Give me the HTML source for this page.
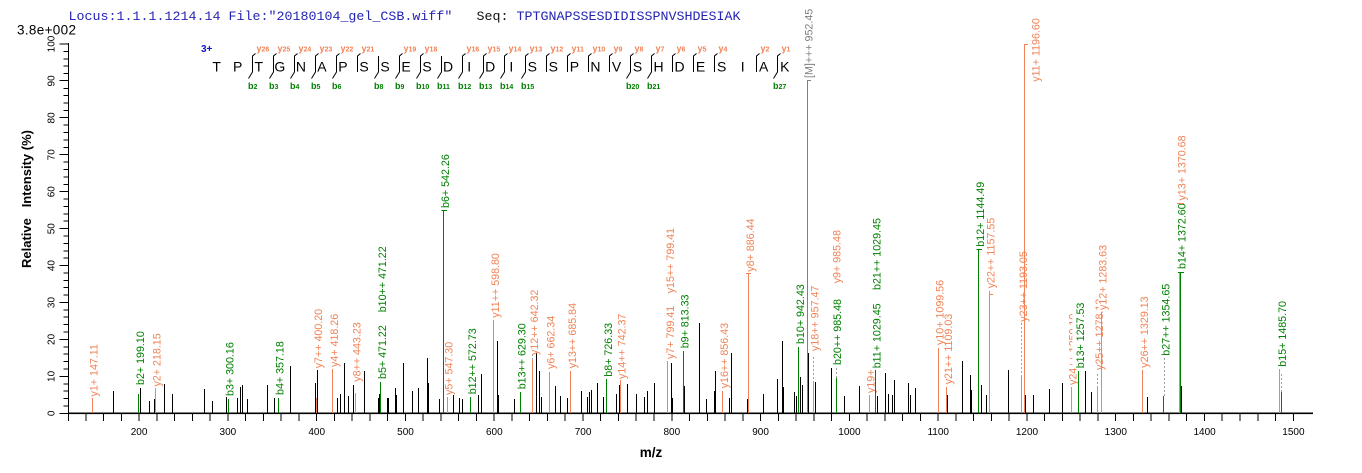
<!DOCTYPE html>
<html><head><meta charset="utf-8"><style>
html,body{margin:0;padding:0;background:#fff;}
svg{display:block;}
.l{font-family:"Liberation Sans",Arial,sans-serif;font-size:10.7px;}
.o{fill:#f08458;}
.g{fill:#008000;}
.k{fill:#808080;}
.t{font-family:"Liberation Sans",Arial,sans-serif;font-size:10px;fill:#000;}
.seq{font-family:"Liberation Sans",Arial,sans-serif;font-size:14px;fill:#000;text-anchor:middle;}
.yi{font-family:"Liberation Sans",Arial,sans-serif;font-weight:bold;fill:#f08458;}
.bi{font-family:"Liberation Sans",Arial,sans-serif;font-weight:bold;fill:#008000;}
</style></head><body>
<svg width="1362" height="473" viewBox="0 0 1362 473" xmlns="http://www.w3.org/2000/svg">
<rect width="1362" height="473" fill="#fff"/>
<!-- header -->
<text x="68.5" y="20" font-family="Liberation Mono, monospace" font-size="13.33" fill="#2424b4" xml:space="preserve">Locus:1.1.1.1214.14 File:"20180104_gel_CSB.wiff"</text>
<text x="476.5" y="20" font-family="Liberation Mono, monospace" font-size="13.33" fill="#111">Seq:</text>
<text x="516.5" y="20" font-family="Liberation Mono, monospace" font-size="13.33" fill="#2424b4">TPTGNAPSSESDIDISSPNVSHDESIAK</text>
<text x="17" y="34.5" font-family="Liberation Sans, Arial, sans-serif" font-size="13.5" textLength="59" fill="#000">3.8e+002</text>

<!-- sequence annotation -->
<text x="201" y="52" font-family="Liberation Sans, Arial, sans-serif" font-size="10" font-weight="bold" fill="#1010d0">3+</text>
<g class="seq">
<text x="216.7" y="71.5">T</text><text x="237.7" y="71.5">P</text><text x="258.8" y="71.5">T</text><text x="279.8" y="71.5">G</text>
<text x="300.9" y="71.5">N</text><text x="321.9" y="71.5">A</text><text x="342.9" y="71.5">P</text><text x="364.0" y="71.5">S</text>
<text x="385.0" y="71.5">S</text><text x="406.1" y="71.5">E</text><text x="427.1" y="71.5">S</text><text x="448.1" y="71.5">D</text>
<text x="469.2" y="71.5">I</text><text x="490.2" y="71.5">D</text><text x="511.3" y="71.5">I</text><text x="532.3" y="71.5">S</text>
<text x="553.3" y="71.5">S</text><text x="574.4" y="71.5">P</text><text x="595.4" y="71.5">N</text><text x="616.5" y="71.5">V</text>
<text x="637.5" y="71.5">S</text><text x="658.5" y="71.5">H</text><text x="679.6" y="71.5">D</text><text x="700.6" y="71.5">E</text>
<text x="721.7" y="71.5">S</text><text x="742.7" y="71.5">I</text><text x="763.7" y="71.5">A</text><text x="784.8" y="71.5">K</text>
</g>
<!-- brackets -->
<g fill="none" stroke="#000" stroke-width="1">
<path d="M255.5 53.5L252.5 56V72L248.5 78.5"/>
<path d="M276.5 53.5L273.5 56V72L269.5 78.5"/>
<path d="M297.5 53.5L294.5 56V72L290.5 78.5"/>
<path d="M318.5 53.5L315.5 56V72L311.5 78.5"/>
<path d="M339.5 53.5L336.5 56V72L332.5 78.5"/>
<path d="M360.5 53.5L357.5 56V72"/>
<path d="M378.5 56V72L374.5 78.5"/>
<path d="M402.5 53.5L399.5 56V72L395.5 78.5"/>
<path d="M423.5 53.5L420.5 56V72L416.5 78.5"/>
<path d="M441.5 56V72L437.5 78.5"/>
<path d="M465.5 53.5L462.5 56V72L458.5 78.5"/>
<path d="M486.5 53.5L483.5 56V72L479.5 78.5"/>
<path d="M507.5 53.5L504.5 56V72L500.5 78.5"/>
<path d="M528.5 53.5L525.5 56V72L521.5 78.5"/>
<path d="M549.5 53.5L546.5 56V72"/>
<path d="M570.5 53.5L567.5 56V72"/>
<path d="M591.5 53.5L588.5 56V72"/>
<path d="M612.5 53.5L609.5 56V72"/>
<path d="M633.5 53.5L630.5 56V72L626.5 78.5"/>
<path d="M654.5 53.5L651.5 56V72L647.5 78.5"/>
<path d="M675.5 53.5L672.5 56V72"/>
<path d="M696.5 53.5L693.5 56V72"/>
<path d="M717.5 53.5L714.5 56V72"/>
<path d="M759.5 53.5L756.5 56V72"/>
<path d="M780.5 53.5L777.5 56V72L773.5 78.5"/>
</g>
<!-- y ion labels -->
<g class="yi">
<text x="256.5" y="51.5"><tspan font-size="9">y</tspan><tspan font-size="7">26</tspan></text>
<text x="277.5" y="51.5"><tspan font-size="9">y</tspan><tspan font-size="7">25</tspan></text>
<text x="298.5" y="51.5"><tspan font-size="9">y</tspan><tspan font-size="7">24</tspan></text>
<text x="319.5" y="51.5"><tspan font-size="9">y</tspan><tspan font-size="7">23</tspan></text>
<text x="340.5" y="51.5"><tspan font-size="9">y</tspan><tspan font-size="7">22</tspan></text>
<text x="361.5" y="51.5"><tspan font-size="9">y</tspan><tspan font-size="7">21</tspan></text>
<text x="403.5" y="51.5"><tspan font-size="9">y</tspan><tspan font-size="7">19</tspan></text>
<text x="424.5" y="51.5"><tspan font-size="9">y</tspan><tspan font-size="7">18</tspan></text>
<text x="466.5" y="51.5"><tspan font-size="9">y</tspan><tspan font-size="7">16</tspan></text>
<text x="487.5" y="51.5"><tspan font-size="9">y</tspan><tspan font-size="7">15</tspan></text>
<text x="508.5" y="51.5"><tspan font-size="9">y</tspan><tspan font-size="7">14</tspan></text>
<text x="529.5" y="51.5"><tspan font-size="9">y</tspan><tspan font-size="7">13</tspan></text>
<text x="550.5" y="51.5"><tspan font-size="9">y</tspan><tspan font-size="7">12</tspan></text>
<text x="571.5" y="51.5"><tspan font-size="9">y</tspan><tspan font-size="7">11</tspan></text>
<text x="592.5" y="51.5"><tspan font-size="9">y</tspan><tspan font-size="7">10</tspan></text>
<text x="613.5" y="51.5"><tspan font-size="9">y</tspan><tspan font-size="7">9</tspan></text>
<text x="634.5" y="51.5"><tspan font-size="9">y</tspan><tspan font-size="7">8</tspan></text>
<text x="655.5" y="51.5"><tspan font-size="9">y</tspan><tspan font-size="7">7</tspan></text>
<text x="676.5" y="51.5"><tspan font-size="9">y</tspan><tspan font-size="7">6</tspan></text>
<text x="697.5" y="51.5"><tspan font-size="9">y</tspan><tspan font-size="7">5</tspan></text>
<text x="718.5" y="51.5"><tspan font-size="9">y</tspan><tspan font-size="7">4</tspan></text>
<text x="760.5" y="51.5"><tspan font-size="9">y</tspan><tspan font-size="7">2</tspan></text>
<text x="781.5" y="51.5"><tspan font-size="9">y</tspan><tspan font-size="7">1</tspan></text>
</g>
<!-- b ion labels -->
<g class="bi">
<text x="248" y="89"><tspan font-size="9">b</tspan><tspan font-size="7">2</tspan></text>
<text x="269" y="89"><tspan font-size="9">b</tspan><tspan font-size="7">3</tspan></text>
<text x="290" y="89"><tspan font-size="9">b</tspan><tspan font-size="7">4</tspan></text>
<text x="311" y="89"><tspan font-size="9">b</tspan><tspan font-size="7">5</tspan></text>
<text x="332" y="89"><tspan font-size="9">b</tspan><tspan font-size="7">6</tspan></text>
<text x="374" y="89"><tspan font-size="9">b</tspan><tspan font-size="7">8</tspan></text>
<text x="395" y="89"><tspan font-size="9">b</tspan><tspan font-size="7">9</tspan></text>
<text x="416" y="89"><tspan font-size="9">b</tspan><tspan font-size="7">10</tspan></text>
<text x="437" y="89"><tspan font-size="9">b</tspan><tspan font-size="7">11</tspan></text>
<text x="458" y="89"><tspan font-size="9">b</tspan><tspan font-size="7">12</tspan></text>
<text x="479" y="89"><tspan font-size="9">b</tspan><tspan font-size="7">13</tspan></text>
<text x="500" y="89"><tspan font-size="9">b</tspan><tspan font-size="7">14</tspan></text>
<text x="521" y="89"><tspan font-size="9">b</tspan><tspan font-size="7">15</tspan></text>
<text x="626" y="89"><tspan font-size="9">b</tspan><tspan font-size="7">20</tspan></text>
<text x="647" y="89"><tspan font-size="9">b</tspan><tspan font-size="7">21</tspan></text>
<text x="773" y="89"><tspan font-size="9">b</tspan><tspan font-size="7">27</tspan></text>
</g>

<!-- axes -->
<g stroke="#000" stroke-width="1" shape-rendering="crispEdges" fill="none">
<path d="M68.5 43V414"/>
<path d="M68 413.5H1313"/>
<!-- y major ticks -->
<path d="M59.5 413.5H68.5M59.5 376.5H68.5M59.5 339.5H68.5M59.5 302.5H68.5M59.5 265.5H68.5M59.5 228.5H68.5M59.5 191.5H68.5M59.5 154.5H68.5M59.5 117.5H68.5M59.5 80.5H68.5M59.5 44H68.5"/>
<!-- y minor ticks -->
<path d="M63.5 406H68.5M63.5 398.5H68.5M63.5 391H68.5M63.5 384H68.5M63.5 369H68.5M63.5 361.5H68.5M63.5 354H68.5M63.5 347H68.5M63.5 332H68.5M63.5 324.5H68.5M63.5 317H68.5M63.5 310H68.5M63.5 295H68.5M63.5 287.5H68.5M63.5 280.5H68.5M63.5 273H68.5M63.5 258H68.5M63.5 251H68.5M63.5 243.5H68.5M63.5 236H68.5M63.5 221H68.5M63.5 214H68.5M63.5 206.5H68.5M63.5 199H68.5M63.5 184.5H68.5M63.5 177H68.5M63.5 169.5H68.5M63.5 162H68.5M63.5 147.5H68.5M63.5 140H68.5M63.5 132.5H68.5M63.5 125H68.5M63.5 110.5H68.5M63.5 103H68.5M63.5 95.5H68.5M63.5 88.5H68.5M63.5 73.5H68.5M63.5 66H68.5M63.5 59H68.5M63.5 51.5H68.5"/>
<!-- x ticks every 20 -->
<path d="M68.5 413V421M86 413V421M103.5 413V421M121.5 413V421M139 413V421M157 413V421M174.5 413V421M192.5 413V421M210 413V421M228 413V421M245.5 413V421M263.5 413V421M281 413V421M299 413V421M316.5 413V421M334.5 413V421M352 413V421M370 413V421M387.5 413V421M405.5 413V421M423 413V421M441 413V421M458.5 413V421M476.5 413V421M494 413V421M512 413V421M529.5 413V421M547.5 413V421M565 413V421M583 413V421M600.5 413V421M618.5 413V421M636 413V421M654 413V421M672 413V421M689.5 413V421M707.5 413V421M725 413V421M743 413V421M760.5 413V421M778.5 413V421M796 413V421M814 413V421M831.5 413V421M849.5 413V421M867 413V421M885 413V421M902.5 413V421M920.5 413V421M938 413V421M956 413V421M973.5 413V421M991.5 413V421M1009 413V421M1027 413V421M1044.5 413V421M1062.5 413V421M1080 413V421M1098 413V421M1115.5 413V421M1133.5 413V421M1151 413V421M1169 413V421M1186.5 413V421M1204.5 413V421M1222 413V421M1240 413V421M1258 413V421M1275.5 413V421M1293.5 413V421"/>
</g>
<rect x="68" y="412.5" width="1245" height="1.6" fill="#000"/>

<!-- x tick labels -->
<g class="t" text-anchor="middle">
<text x="139.1" y="435">200</text><text x="227.9" y="435">300</text><text x="316.7" y="435">400</text>
<text x="405.5" y="435">500</text><text x="494.3" y="435">600</text><text x="583.1" y="435">700</text>
<text x="671.8" y="435">800</text><text x="760.6" y="435">900</text><text x="849.4" y="435">1000</text>
<text x="938.2" y="435">1100</text><text x="1027" y="435">1200</text><text x="1115.8" y="435">1300</text>
<text x="1204.6" y="435">1400</text><text x="1293.4" y="435">1500</text>
</g>
<!-- y tick labels -->
<g class="t" text-anchor="middle">
<text transform="translate(54.5 413.3) rotate(-90)">0</text>
<text transform="translate(54.5 376.4) rotate(-90)">10</text>
<text transform="translate(54.5 339.4) rotate(-90)">20</text>
<text transform="translate(54.5 302.5) rotate(-90)">30</text>
<text transform="translate(54.5 265.6) rotate(-90)">40</text>
<text transform="translate(54.5 228.7) rotate(-90)">50</text>
<text transform="translate(54.5 191.7) rotate(-90)">60</text>
<text transform="translate(54.5 154.8) rotate(-90)">70</text>
<text transform="translate(54.5 117.9) rotate(-90)">80</text>
<text transform="translate(54.5 80.9) rotate(-90)">90</text>
<text transform="translate(54.5 44) rotate(-90)">100</text>
</g>
<text transform="translate(31 199) rotate(-90)" text-anchor="middle" font-family="Liberation Sans, Arial, sans-serif" font-size="13" font-weight="bold" fill="#000" xml:space="preserve" textLength="138">Relative   Intensity (%)</text>
<text x="651" y="457" text-anchor="middle" font-family="Liberation Sans, Arial, sans-serif" font-size="13.5" font-weight="bold" fill="#000">m/z</text>

<!-- unlabeled black peaks -->
<path stroke="#000" stroke-width="1" fill="none" shape-rendering="crispEdges" d="
M113.5 413V391M140.5 413V388M149.5 413V401M154.5 413V399M164.5 413V384M172.5 413V394M204.5 413V389M212.5 413V401
M226.5 413V397M237.5 413V398M240.5 413V387M242.5 413V385M247.5 413V399M267.5 413V385M274.5 413V398M290.5 413V366
M315.5 413V383M317.5 413V370M337.5 413V398M340.5 413V394M344.5 413V363M348.5 413V396M353.5 413V385M364.5 413V371
M378.5 413V398M379.5 413V394M387.5 413V398M388.5 413V398M395.5 413V388M396.5 413V395
M403.5 413V363M412.5 413V391M418.5 413V388M427.5 413V358M428.5 413V383M439.5 413V399M453.5 413V395M459.5 413V398
M462.5 413V399M478.5 413V395M481.5 413V374M497.5 413V341M498.5 413V395M514.5 413V399M536.5 413V353M539.5 413V371
M541.5 413V397M555.5 413V386M560.5 413V396M567.5 413V398M581.5 413V391M587.5 413V397M589.5 413V392M591.5 413V390
M597.5 413V383M603.5 413V397M616.5 413V394M619.5 413V385M627.5 413V384M636.5 413V394M644.5 413V397M647.5 413V391
M654.5 413V383M671.5 413V363M672.5 413V398M684.5 413V386M699.5 413V323M706.5 413V399M714.5 413V391M715.5 413V371
M729.5 413V398M731.5 413V353M747.5 413V399M763.5 413V394M777.5 413V379M782.5 413V341M783.5 413V387M794.5 413V392
M796.5 413V396M800.5 413V377M802.5 413V385M808.5 413V353M815.5 413V382M831.5 413V368M844.5 413V396M859.5 413V386
M877.5 413V396M885.5 413V373M888.5 413V394M892.5 413V395M894.5 413V380M908.5 413V383M910.5 413V395M915.5 413V388
M947.5 413V395M962.5 413V361M970.5 413V375M971.5 413V390M981.5 413V385M986.5 413V395M1008.5 413V370M1025.5 413V395
M1033.5 413V395M1049.5 413V389M1062.5 413V383M1085.5 413V371M1091.5 413V392M1147.5 413V397M1181.5 413V386"/>

<!-- peak labels (m/z order) -->
<g class="l">
<text class="o" transform="translate(97.3 396.5) rotate(-90)">y1+ 147.11</text>
<text class="g" transform="translate(144 385) rotate(-90)">b2+ 199.10</text>
<text class="o" transform="translate(160.5 386.5) rotate(-90)">y2+ 218.15</text>
<text class="g" transform="translate(233.5 396) rotate(-90)">b3+ 300.16</text>
<text class="g" transform="translate(283.5 395) rotate(-90)">b4+ 357.18</text>
<text class="o" transform="translate(322 368.3) rotate(-90)">y7++ 400.20</text>
<text class="o" transform="translate(338 367) rotate(-90)">y4+ 418.26</text>
<text class="o" transform="translate(360.5 381.7) rotate(-90)">y8++ 443.23</text>
<text class="g" transform="translate(386 379) rotate(-90)">b5+ 471.22</text>
<text class="g" transform="translate(386 312.3) rotate(-90)">b10++ 471.22</text>
<text class="g" transform="translate(449 208) rotate(-90)">b6+ 542.26</text>
<text class="o" transform="translate(452.5 395) rotate(-90)">y5+ 547.30</text>
<text class="g" transform="translate(476 394.3) rotate(-90)">b12++ 572.73</text>
<text class="o" transform="translate(499 317.7) rotate(-90)">y11++ 598.80</text>
<text class="g" transform="translate(525.5 389.3) rotate(-90)">b13++ 629.30</text>
<text class="o" transform="translate(538 355) rotate(-90)">y12++ 642.32</text>
<text class="o" transform="translate(554.5 369) rotate(-90)">y6+ 662.34</text>
<text class="o" transform="translate(576 368.3) rotate(-90)">y13++ 685.84</text>
<text class="g" transform="translate(612 376.7) rotate(-90)">b8+ 726.33</text>
<text class="o" transform="translate(625.5 379) rotate(-90)">y14++ 742.37</text>
<text class="o" transform="translate(674 359) rotate(-90)">y7+ 799.41</text>
<text class="o" transform="translate(674 293.3) rotate(-90)">y15++ 799.41</text>
<text class="g" transform="translate(688.5 348.3) rotate(-90)">b9+ 813.33</text>
<text class="o" transform="translate(728 388.3) rotate(-90)">y16++ 856.43</text>
<text class="o" transform="translate(754 271.7) rotate(-90)">y8+ 886.44</text>
<text class="g" transform="translate(804 344) rotate(-90)">b10+ 942.43</text>
<text class="k" transform="translate(812.5 78) rotate(-90)">[M]+++ 952.45</text>
<text class="o" transform="translate(818.5 351) rotate(-90)">y18++ 957.47</text>
<text class="g" transform="translate(841 365) rotate(-90)">b20++ 985.48</text>
<text class="o" transform="translate(840.5 283.3) rotate(-90)">y9+ 985.48</text>
<text class="o" transform="translate(874.5 393) rotate(-90)">y19+ 1022.44</text>
<rect x="867" y="302" width="16" height="66.5" fill="#fff"/>
<text class="g" transform="translate(880.5 368.3) rotate(-90)">b11+ 1029.45</text>
<text class="g" transform="translate(880.5 290) rotate(-90)">b21++ 1029.45</text>
<text class="o" transform="translate(943.5 345) rotate(-90)">y10+ 1099.56</text>
<text class="o" transform="translate(952 384.3) rotate(-90)">y21++ 1109.03</text>
<text class="g" transform="translate(984 246.7) rotate(-90)">b12+ 1144.49</text>
<text class="o" transform="translate(994.5 288.3) rotate(-90)">y22++ 1157.55</text>
<text class="o" transform="translate(1027 321.7) rotate(-90)">y23++ 1193.05</text>
<text class="o" transform="translate(1039.5 81.7) rotate(-90)">y11+ 1196.60</text>
<text class="o" transform="translate(1076.5 385) rotate(-90)">y24++ 1250.10</text>
<rect x="1072.3" y="302" width="13.5" height="66.5" fill="#fff"/>
<text class="g" transform="translate(1084 368.3) rotate(-90)">b13+ 1257.53</text>
<text class="o" transform="translate(1103 370) rotate(-90)">y25++ 1278.13</text>
<rect x="1098.5" y="244" width="10" height="66" fill="#fff"/>
<text class="o" transform="translate(1106.5 310) rotate(-90)">y12+ 1283.63</text>
<text class="o" transform="translate(1148 367.7) rotate(-90)">y26++ 1329.13</text>
<text class="g" transform="translate(1169.5 355.7) rotate(-90)">b27++ 1354.65</text>
<text class="o" transform="translate(1185.5 200.5) rotate(-90)">y13+ 1370.68</text>
<text class="g" transform="translate(1185.5 269) rotate(-90)">b14+ 1372.60</text>
<text class="g" transform="translate(1286 366.7) rotate(-90)">b15+ 1485.70</text>
</g>

<!-- gray dashed connectors -->
<path stroke="#a0a0a0" stroke-width="1" stroke-dasharray="2,2" fill="none" shape-rendering="crispEdges" d="M532.5 360V355M813.5 383V355M836.5 378V366M1021.5 377V323M1097.5 388V372M1164.5 396V357M1281.5 392V372"/>

<!-- orange (y) peaks -->
<path stroke="#f08458" stroke-width="1" fill="none" shape-rendering="crispEdges" d="
M92.5 413V398M155.5 413V388M316.5 413V398M332.5 413V369M355.5 413V393M447.5 413V397M493.5 413V320M532.5 413V360
M549.5 413V372M570.5 413V371M620.5 413V380M667.5 413V361M722.5 413V391M748.5 413V273M813.5 413V383M869.5 413V395
M938.5 413V348M946.5 413V387M989.5 413V291M1021.5 413V377M1024.5 413V44M1071.5 413V387M1097.5 413V388M1101.5 413V312
M1142.5 413V370M1179.5 413V272M1279.5 413V369
M746 273.5H751M989 294.5H993M1024 44.5H1028M1177 203.5H1184"/>
<!-- green (b) peaks -->
<path stroke="#008000" stroke-width="1" fill="none" shape-rendering="crispEdges" d="
M138.5 413V394M228.5 413V399M278.5 413V398M380.5 413V382M443.5 413V210M470.5 413V397M520.5 413V392M606.5 413V379
M683.5 413V351M798.5 413V347M836.5 413V378M875.5 413V370M978.5 413V249M1078.5 413V371M1163.5 413V396M1180.5 413V272
M1281.5 413V392
M441.5 210.5H447M976.5 249.5H982M1178 272.5H1184"/>
<!-- precursor -->
<path stroke="#808080" stroke-width="1" fill="none" shape-rendering="crispEdges" d="M807.5 413V80M807 80.5H811"/>
</svg>
</body></html>
